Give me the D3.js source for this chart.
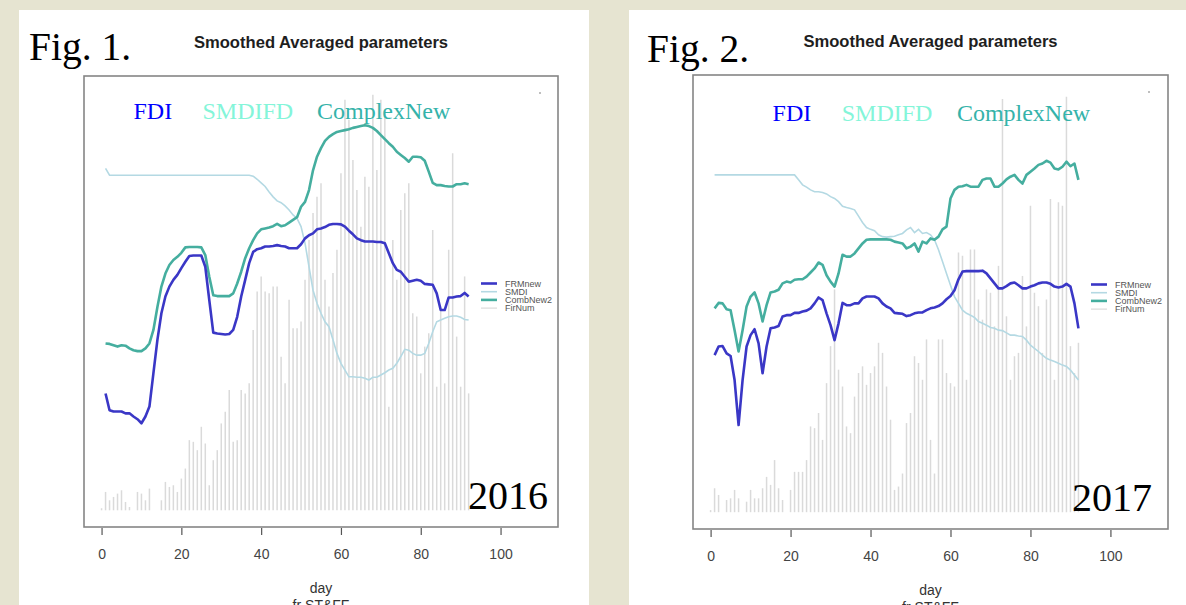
<!DOCTYPE html>
<html>
<head>
<meta charset="utf-8">
<script src="https://cdn.jsdelivr.net/npm/d3@7"></script>
<style>
 body { margin: 0; background: #e6e4d1; }
 svg { display: block; }
</style>
</head>
<body>
<script>
// days of the season: lines are given for day 1..92, fire counts for day 0..92
var days = d3.range(1, 93);
var barDays = d3.range(0, 93);
var tickDays = [0, 20, 40, 60, 80, 100];
var seriesNames = ['FRMnew', 'SMDI', 'CombNew2', 'FirNum'];
var topLabels = ['FDI', 'SMDIFD', 'ComplexNew'];

// 2016 (Fig. 1) - smoothed averaged parameters, relative units
var frm2016 = [29.6, 25.9, 25.6, 25.6, 25.6, 25.2, 25.2, 24.5, 23.9, 23.0,
 24.5, 26.7, 34.1, 41.5, 47.4, 51.1, 53.3, 54.8, 55.9, 57.4,
 58.8, 60.1, 60.2, 60.2, 60.2, 57.7, 50.3, 43.1, 42.9, 42.8,
 42.7, 42.8, 43.7, 46.6, 51.1, 54.8, 58.5, 61.0, 61.6, 61.8,
 62.2, 62.2, 62.3, 62.5, 62.3, 62.2, 61.8, 61.8, 61.8, 62.7,
 64.0, 64.7, 65.1, 66.0, 66.2, 66.5, 67.0, 67.2, 67.2, 67.1,
 66.6, 65.7, 64.9, 64.0, 63.6, 63.3, 63.3, 63.3, 63.2, 63.2,
 62.9, 60.7, 58.5, 57.0, 56.6, 55.5, 54.4, 54.6, 54.8, 54.6,
 53.9, 53.8, 53.7, 51.8, 48.1, 48.1, 50.9, 50.9, 51.1, 51.2,
 51.9, 51.1];
var smdi2016 = [79.5, 78.0, 78.0, 78.0, 78.0, 78.0, 78.0, 78.0, 78.0, 78.0,
 78.0, 78.0, 78.0, 78.0, 78.0, 78.0, 78.0, 78.0, 78.0, 78.0,
 78.0, 78.0, 78.0, 78.0, 78.0, 78.0, 78.0, 78.0, 78.0, 78.0,
 78.0, 78.0, 78.0, 78.0, 78.0, 78.0, 78.0, 77.8, 77.1, 76.3,
 75.5, 74.3, 73.2, 72.3, 71.9, 71.2, 70.3, 69.2, 68.4, 66.6,
 62.9, 57.7, 52.5, 49.6, 47.4, 45.5, 44.4, 41.5, 38.5, 36.3,
 34.8, 33.3, 33.3, 33.2, 33.2, 33.0, 32.6, 33.2, 33.2, 33.7,
 34.2, 34.8, 35.2, 36.3, 37.8, 39.4, 39.2, 38.5, 38.1, 38.1,
 38.5, 40.7, 43.3, 45.5, 45.9, 46.3, 46.6, 46.8, 46.8, 46.5,
 46.0, 45.9];
var comb2016 = [40.7, 40.6, 40.3, 40.0, 40.3, 40.2, 39.6, 39.2, 39.0, 39.0,
 39.6, 40.7, 43.7, 48.8, 53.3, 56.2, 58.1, 59.2, 59.9, 60.8,
 62.0, 62.1, 62.1, 62.1, 62.0, 60.3, 55.5, 51.4, 51.2, 51.2,
 51.2, 51.2, 51.8, 54.0, 56.6, 59.6, 61.8, 63.6, 65.1, 66.0,
 66.2, 66.4, 66.7, 67.2, 66.7, 66.9, 67.5, 68.1, 68.7, 71.0,
 72.1, 74.7, 79.1, 82.1, 84.0, 85.6, 86.5, 87.1, 87.6, 87.8,
 88.0, 88.2, 88.5, 88.7, 88.9, 89.1, 88.9, 88.5, 87.8, 86.9,
 86.0, 85.1, 84.3, 83.2, 82.5, 81.8, 81.0, 82.1, 82.1, 82.0,
 81.2, 78.8, 76.3, 75.8, 75.8, 75.6, 75.5, 75.5, 76.0, 76.0,
 76.2, 76.0];
var fires2016 = [0.5, 4.4, 2.4, 3.2, 4.0, 4.8, 2.0, 0.8, 0, 4.4,
 4.0, 2.4, 5.2, 0, 0, 2.4, 6.8, 5.6, 6.0, 4.4,
 7.6, 10.0, 16.8, 16.4, 14.4, 20.0, 16.0, 6.0, 12.0, 14.4,
 20.8, 23.6, 28.8, 16.4, 16.8, 28.8, 28.0, 30.4, 43.2, 52.4,
 56.0, 52.4, 52.0, 53.6, 53.6, 36.8, 30.4, 50.4, 43.6, 43.6,
 45.2, 55.2, 64.7, 71.2, 75.1, 78.3, 55.2, 48.8, 56.8, 62.4,
 80.7, 98.3, 93.5, 83.9, 76.7, 67.9, 79.9, 77.5, 99.5, 81.5,
 98.3, 95.9, 24.8, 64.7, 55.2, 71.9, 75.9, 78.3, 47.2, 46.4,
 32.8, 39.2, 42.4, 67.1, 29.6, 48.8, 30.4, 62.4, 85.5, 41.6,
 29.6, 56.0, 28.0];

// 2017 (Fig. 2)
var frm2017 = [38.3, 40.2, 40.3, 38.7, 38.1, 32.8, 22.9, 32.8, 40.2, 42.7,
 44.0, 40.9, 34.3, 40.2, 44.2, 44.4, 44.7, 46.8, 47.1, 47.1,
 47.6, 47.6, 47.9, 48.1, 48.6, 49.7, 51.0, 50.4, 47.5, 44.9,
 41.6, 45.3, 49.8, 49.3, 49.3, 49.7, 49.7, 50.8, 51.2, 51.2,
 51.2, 50.8, 49.7, 49.0, 48.6, 47.6, 47.5, 47.4, 46.9, 47.1,
 47.5, 47.7, 47.7, 48.2, 48.6, 48.8, 49.1, 49.7, 50.6, 51.3,
 52.6, 55.0, 56.7, 56.8, 56.8, 56.8, 56.8, 56.9, 56.3, 55.2,
 54.1, 53.0, 53.0, 53.5, 54.1, 54.3, 53.7, 53.0, 53.0, 53.4,
 53.7, 54.1, 54.3, 54.3, 54.0, 53.4, 53.2, 53.4, 54.0, 53.4,
 49.7, 44.2];
var smdi2017 = [78.0, 78.0, 78.0, 78.0, 78.0, 78.0, 78.0, 78.0, 78.0, 78.0,
 78.0, 78.0, 78.0, 78.0, 78.0, 78.0, 78.0, 78.0, 78.0, 78.0,
 78.0, 76.9, 75.8, 75.3, 74.7, 74.3, 74.3, 74.1, 73.8, 73.2,
 72.8, 72.1, 71.1, 70.8, 70.6, 70.3, 68.9, 67.5, 66.4, 66.0,
 65.7, 64.8, 64.4, 64.3, 64.4, 64.5, 64.8, 65.1, 65.9, 66.4,
 65.3, 66.0, 65.1, 65.3, 64.8, 63.7, 61.5, 58.9, 56.3, 53.7,
 51.2, 49.7, 48.2, 47.5, 47.1, 46.6, 45.7, 45.3, 44.9, 44.4,
 44.2, 43.8, 43.7, 43.2, 42.7, 42.7, 42.5, 42.4, 41.6, 40.5,
 39.8, 39.1, 38.3, 37.6, 37.2, 36.9, 36.5, 36.1, 35.8, 35.0,
 33.9, 32.8];
var comb2017 = [48.6, 49.8, 49.7, 48.4, 48.2, 43.8, 39.1, 43.8, 49.0, 51.2,
 52.1, 49.7, 45.7, 49.3, 52.1, 52.3, 52.7, 54.1, 54.5, 54.3,
 54.9, 55.0, 55.0, 55.6, 56.5, 57.4, 58.7, 58.2, 55.9, 54.5,
 53.4, 56.3, 60.4, 60.0, 60.0, 60.7, 61.8, 62.9, 63.7, 63.8,
 63.8, 63.8, 63.8, 63.8, 63.7, 63.3, 63.1, 62.9, 61.8, 62.2,
 62.9, 61.1, 63.3, 62.9, 64.0, 63.7, 64.4, 66.0, 66.6, 72.8,
 74.7, 75.4, 75.5, 75.8, 75.4, 75.4, 75.4, 76.9, 77.2, 77.2,
 75.4, 75.4, 76.1, 77.0, 77.6, 78.0, 76.9, 76.1, 78.0, 78.7,
 79.4, 80.2, 80.5, 81.1, 80.7, 79.4, 79.2, 79.8, 80.9, 79.9,
 80.5, 76.9];
var fires2017 = [0.5, 5.7, 4.1, 0, 2.9, 3.3, 5.3, 3.3, 0, 2.5,
 5.3, 3.3, 3.3, 5.7, 8.4, 6.5, 12.4, 5.7, 2.9, 0,
 5.3, 9.6, 9.6, 9.6, 12.4, 20.4, 20.0, 23.6, 17.2, 30.7,
 39.5, 53.0, 33.9, 29.9, 20.4, 18.8, 27.5, 33.1, 34.7, 30.3,
 33.1, 34.7, 40.3, 37.9, 29.9, 22.0, 5.3, 6.1, 9.2, 21.2,
 23.6, 37.1, 35.5, 31.5, 41.1, 17.2, 9.2, 41.1, 41.1, 33.1,
 30.7, 29.9, 61.8, 61.0, 31.5, 62.5, 62.5, 50.6, 45.8, 53.0,
 52.2, 44.2, 58.6, 98.3, 46.6, 31.5, 37.1, 37.9, 56.2, 44.2,
 72.9, 52.2, 49.0, 37.9, 50.6, 74.5, 31.5, 73.7, 72.9, 98.8,
 39.5, 33.1, 40.3];

// colours of series / labels
var col = {frm: '#3a37c6', smdi: '#b4d9e3', comb: '#45ae9f', fire: '#dadada'};
var labelColors = ['#0000ff', '#84f5d9', '#35b3aa'];

var W = 1186, H = 605;
var svg = d3.select('body').append('svg').attr('width', W).attr('height', H);
svg.append('rect').attr('width', W).attr('height', H).attr('fill', '#e6e4d1');

// panel geometry (pixels)
var panels = [
 {fig: 'Fig. 1.', year: '2016', frm: frm2016, smdi: smdi2016, comb: comb2016, fires: fires2016,
  sheet: [19, 10, 570, 600], box: [84, 76, 558, 527], figX: 29, figY: 60, titleY: 47.5,
  labelDays: [8, 25.3, 54], labelY: 119, legX: 481, legY: 283.5, dot: [540, 93], yearX: 548},
 {fig: 'Fig. 2.', year: '2017', frm: frm2017, smdi: smdi2017, comb: comb2017, fires: fires2017,
  sheet: [629, 10, 560, 600], box: [693, 75, 1168, 529], figX: 647, figY: 62, titleY: 47,
  labelDays: [15.5, 32.8, 61.6], labelY: 120.5, legX: 1091, legY: 284.5, dot: [1149, 92], yearX: 1152}
];

panels.forEach(function(p)
{
 var g = svg.append('g');
 g.append('rect').attr('x', p.sheet[0]).attr('y', p.sheet[1])
  .attr('width', p.sheet[2]).attr('height', p.sheet[3]).attr('fill', '#ffffff');

 var bx0 = p.box[0], by0 = p.box[1], bx1 = p.box[2], by1 = p.box[3];
 var pad = (by1 - by0) * 0.037;
 // R-like x range (0..110 padded 4%)
 var x = d3.scaleLinear().domain([-4.4, 114.4]).range([bx0, bx1]);
 var y = d3.scaleLinear().domain([0, 100]).range([by1, by0]);
 var yFire = d3.scaleLinear().domain([0, 100]).range([by1 - pad, by0 + pad]);

 // titles
 g.append('text').attr('x', p.figX).attr('y', p.figY).text(p.fig)
  .style('font-family', '"Liberation Serif", "Times New Roman", serif').style('font-size', '39.5px').attr('fill', '#000');
 g.append('text').attr('x', x(55)).attr('y', p.titleY).attr('text-anchor', 'middle')
  .text('Smoothed Averaged parameters')
  .style('font-family', '"Liberation Sans", Arial, sans-serif').style('font-size', '16.6px')
  .style('font-weight', 'bold').attr('fill', '#1e1e1e');

 // fire counts as thin vertical lines
 g.append('g').selectAll('line').data(barDays.filter(function(d){ return p.fires[d] > 0; }))
  .enter().append('line')
  .attr('x1', function(d){ return x(d); }).attr('x2', function(d){ return x(d); })
  .attr('y1', yFire(0)).attr('y2', function(d){ return yFire(p.fires[d]); })
  .attr('stroke', col.fire).attr('stroke-width', 1.5);

 var line = function(vals)
 {
  return d3.line().x(function(d){ return x(d); })
   .y(function(d, i){ return y(vals[i]); })(days);
 };
 g.append('path').attr('d', line(p.smdi)).attr('fill', 'none')
  .attr('stroke', col.smdi).attr('stroke-width', 1.6);
 g.append('path').attr('d', line(p.comb)).attr('fill', 'none')
  .attr('stroke', col.comb).attr('stroke-width', 2.6).attr('stroke-linejoin', 'round');
 g.append('path').attr('d', line(p.frm)).attr('fill', 'none')
  .attr('stroke', col.frm).attr('stroke-width', 2.6).attr('stroke-linejoin', 'round');

 // frame
 g.append('rect').attr('x', bx0).attr('y', by0).attr('width', bx1 - bx0).attr('height', by1 - by0)
  .attr('fill', 'none').attr('stroke', '#858585').attr('stroke-width', 1.6);
 g.append('circle').attr('cx', p.dot[0]).attr('cy', p.dot[1]).attr('r', 1).attr('fill', '#aaa');

 // coloured labels on top
 topLabels.forEach(function(t, i)
 {
  g.append('text').attr('x', x(p.labelDays[i])).attr('y', p.labelY).text(t)
   .style('font-family', '"Liberation Serif", "Times New Roman", serif').style('font-size', '24px')
   .attr('fill', labelColors[i]);
 });

 // year
 g.append('text').attr('x', p.yearX).attr('y', by1 - 18).attr('text-anchor', 'end').text(p.year)
  .style('font-family', '"Liberation Serif", "Times New Roman", serif').style('font-size', '40px').attr('fill', '#000');

 // legend (R style)
 var legCols = [col.frm, col.smdi, col.comb, col.fire];
 var legW = [2.6, 1.6, 2.6, 1.2];
 seriesNames.forEach(function(s, i)
 {
  var ly = p.legY + i * 8.2;
  g.append('line').attr('x1', p.legX).attr('x2', p.legX + 16).attr('y1', ly).attr('y2', ly)
   .attr('stroke', legCols[i]).attr('stroke-width', legW[i]);
  g.append('text').attr('x', p.legX + 24).attr('y', ly + 3.2).text(s)
   .style('font-family', '"Liberation Sans", Arial, sans-serif').style('font-size', '9px').attr('fill', '#555');
 });

 // x axis
 var axis = d3.axisBottom(x).tickValues(tickDays).tickSize(7).tickPadding(14);
 var ax = g.append('g').attr('transform', 'translate(0,' + (by1 + 1) + ')').call(axis);
 ax.select('.domain').remove();
 ax.selectAll('line').attr('stroke', '#555').attr('stroke-width', 1.2);
 ax.selectAll('text').style('font-family', '"Liberation Sans", Arial, sans-serif')
  .style('font-size', '14px').attr('fill', '#444');

 g.append('text').attr('x', x(55)).attr('y', by1 + 66).attr('text-anchor', 'middle').text('day')
  .style('font-family', '"Liberation Sans", Arial, sans-serif').style('font-size', '14px').attr('fill', '#333');
 // caption line below, cut by the lower edge as in the reference
 g.append('text').attr('x', x(55)).attr('y', by1 + 83).attr('text-anchor', 'middle').text('fr ST&FF')
  .style('font-family', '"Liberation Sans", Arial, sans-serif').style('font-size', '14px').attr('fill', '#333');
});
</script>
</body>
</html>
